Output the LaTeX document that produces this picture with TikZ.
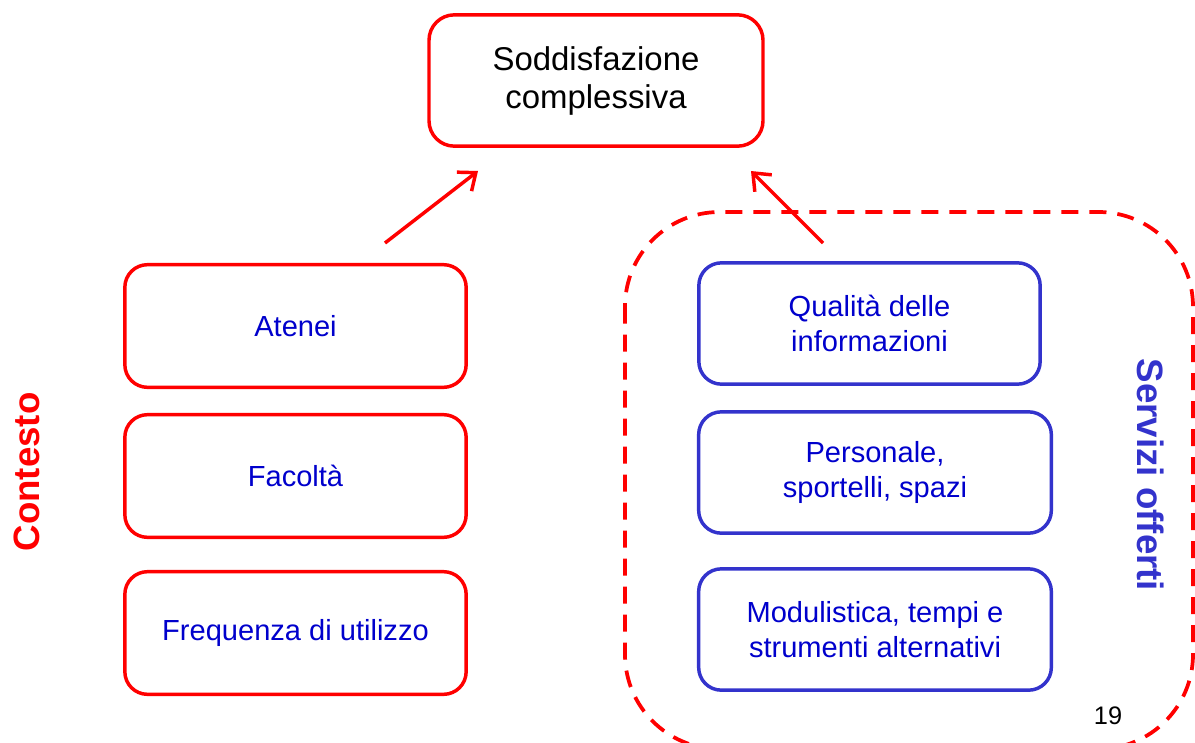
\documentclass[tikz,border=0pt]{standalone}
\usepackage{fontspec}
\setmainfont{Liberation Sans}
\usetikzlibrary{arrows.meta}
\definecolor{myred}{RGB}{255,0,0}
\definecolor{boxblue}{RGB}{51,51,204}
\definecolor{txtblue}{RGB}{0,0,204}
\begin{document}
\begin{tikzpicture}[x=0.75pt,y=-0.75pt,
  basebox/.style={line width=2.6pt, align=center, inner sep=0pt,
    font=\fontsize{21.8}{26.5}\selectfont, text=txtblue},
  redbox/.style={basebox, draw=myred, rounded corners=17pt,
    minimum width=256pt, minimum height=92pt},
  bluebox/.style={basebox, draw=boxblue, rounded corners=17pt,
    minimum height=91pt},
  topbox/.style={basebox, draw=myred, rounded corners=19pt,
    minimum width=250.5pt, minimum height=98.5pt, text=black,
    font=\fontsize{24.7}{28.5}\selectfont},
  sidelabel/.style={font=\fontsize{27.5}{33}\selectfont\bfseries, inner sep=0pt},
  redarrow/.style={draw=myred, line width=2.6pt,
    -{Straight Barb[length=11pt,width=18pt,line width=2.6pt]}},
  region/.style={draw=myred, line width=2.8pt, rounded corners=71pt,
    dash pattern=on 12.75pt off 8.25pt}
]
\useasboundingbox (0,0) rectangle (1195,742);
\clip (0,0) rectangle (1195,742);

% dashed region
\draw[region] (625,212) rectangle (1193,749);

% top box
\node[topbox] (top) at (596,80.5) {Soddisfazione\\complessiva};

% left boxes
\node[redbox] (atenei) at (295.5,326) {Atenei};
\node[redbox] (facolta) at (295.5,476) {Facoltà};
\node[redbox] (freq) at (295.5,633) {Frequenza di utilizzo};

% right boxes
\node[bluebox, minimum width=256pt] (qual) at (869.5,323.5) {Qualità delle\\informazioni};
\node[bluebox, minimum width=264.5pt] (pers) at (875,472.5) {Personale,\\sportelli, spazi};
\node[bluebox, minimum width=264.5pt] (modu) at (875,629.5) {Modulistica, tempi e\\strumenti alternativi};

% side labels
\node[sidelabel, text=myred, rotate=90] (contesto) at (27,472) {Contesto};
\node[sidelabel, text=boxblue, rotate=-90] (servizi) at (1151,475) {Servizi offerti};

% arrows
\coordinate (la) at (385,243);
\coordinate (lb) at (478,171);
\coordinate (ra) at (823,243);
\coordinate (rb) at (751,171);
\draw[redarrow] (la) -- (lb);
\draw[redarrow] (ra) -- (rb);

% page number
\node[font=\fontsize{19}{21}\selectfont, inner sep=0pt] (pnum) at (1108,716) {19};
\end{tikzpicture}
\end{document}
